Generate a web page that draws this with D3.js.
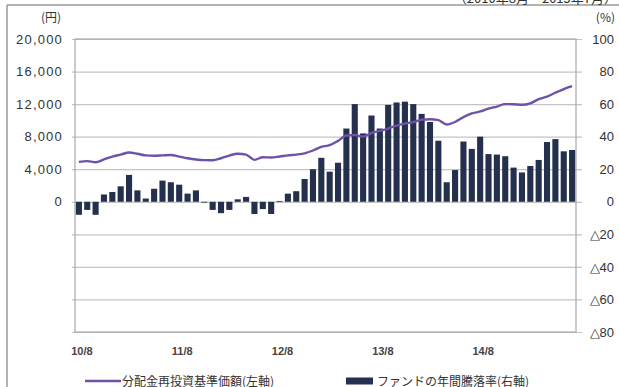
<!DOCTYPE html>
<html>
<head>
<meta charset="utf-8">
<script src="https://cdn.jsdelivr.net/npm/d3@7/dist/d3.min.js"></script>
<style>
  body { margin: 0; background: #fff; }
  svg { display: block; font-family: "Noto Sans CJK JP", "Noto Sans", sans-serif; }
</style>
</head>
<body>
<div id="chart"></div>
<script>
// --- Data ---
const months = d3.utcMonth.range(new Date(Date.UTC(2010, 7, 1)), new Date(Date.UTC(2015, 7, 1)))
    .map(d3.utcFormat("%y/%-m"));
const xTickLabels = ["10/8", "11/8", "12/8", "13/8", "14/8"];
const leftTicks = [0, 4000, 8000, 12000, 16000, 20000];
const rightTicks = [-80, -60, -40, -20, 0, 20, 40, 60, 80, 100];

// fund annual return (%), right axis
const returnPct = [
    -8, -5, -8, 4.5, 6, 9.5, 16.5, 7, 2, 8,
    13, 12, 10.5, 5, 7, -0.5, -5, -7, -5, 1.5,
    3, -7.5, -4.5, -7.5, 0.5, 5, 6.5, 14, 20, 27,
    18.5, 24, 45, 60, 42, 53, 45, 59.5, 61, 61.5,
    60, 54, 49, 37.5, 12, 19.5, 37, 32.5, 40, 29.3,
    29, 28, 21, 18, 22, 25.7, 36.7, 38.5, 31, 31.8
];
// NAV with dividends reinvested (yen), left axis
const navYen = [
    4900, 5000, 4850, 5200, 5550, 5800, 6050, 5900, 5700, 5650,
    5700, 5750, 5550, 5350, 5200, 5120, 5110, 5350, 5680, 5900,
    5800, 5150, 5480, 5440, 5560, 5700, 5800, 5950, 6300, 6750,
    6950, 7480, 8150, 8200, 8010, 8450, 8710, 9000, 9350, 9600,
    9800, 10080, 10140, 10030, 9500, 9800, 10400, 10850, 11100, 11450,
    11700, 12000, 11990, 11920, 12100, 12600, 12920, 13400, 13850, 14200
];

// --- Layout ---
const width = 619, height = 387;
const plot = { left: 75, right: 576, top: 39, bottom: 332 };

const svg = d3.select("#chart").append("svg")
    .attr("width", width)
    .attr("height", height);

// outer frame (top and left edges)
svg.append("line").attr("x1", 7).attr("x2", width).attr("y1", 5).attr("y2", 5)
    .attr("stroke", "#9a9a9a").attr("stroke-width", 1.5);
svg.append("line").attr("x1", 7).attr("x2", 7).attr("y1", 5).attr("y2", height)
    .attr("stroke", "#9a9a9a").attr("stroke-width", 1.5);

// period header, cut by the top edge as in the source
svg.append("text")
    .attr("x", 617).attr("y", 2.5)
    .attr("text-anchor", "end")
    .attr("fill", "#333")
    .style("font-size", "13px")
    .text("（2010年8月～2015年7月）");

const x = d3.scaleBand()
    .domain(months)
    .range([plot.left, plot.right])
    .paddingInner(0.27)
    .paddingOuter(0.1);

const yL = d3.scaleLinear().domain([-16000, 20000]).range([plot.bottom, plot.top]);
const yR = d3.scaleLinear().domain([-80, 100]).range([plot.bottom, plot.top]);

// --- Gridlines + right axis ---
const rightAxis = svg.append("g")
    .attr("transform", `translate(${plot.right + 6},0)`)
    .call(d3.axisRight(yR)
        .tickValues(rightTicks)
        .tickSize(-(plot.right + 6 - plot.left + 3))
        .tickFormat(d => d < 0 ? "△" + Math.abs(d) : d));
rightAxis.select(".domain").remove();
rightAxis.selectAll(".tick line").attr("stroke", "#c4c4c4").attr("stroke-width", 1.2);
rightAxis.selectAll(".tick text")
    .attr("x", 32)
    .attr("text-anchor", "end")
    .attr("fill", "#333")
    .style("font-size", "13px");

// plot frame
svg.append("rect")
    .attr("x", plot.left).attr("y", plot.top)
    .attr("width", plot.right - plot.left).attr("height", plot.bottom - plot.top)
    .attr("fill", "none").attr("stroke", "#a8a8a8").attr("stroke-width", 1.2);

// --- Left axis ---
const leftAxis = svg.append("g")
    .attr("transform", `translate(${plot.left - 3},0)`)
    .call(d3.axisLeft(yL)
        .tickValues(leftTicks)
        .tickSize(0)
        .tickPadding(9)
        .tickFormat(d3.format(",")));
leftAxis.select(".domain").remove();
leftAxis.selectAll(".tick text")
    .attr("fill", "#333")
    .style("font-size", "13px")
    .style("letter-spacing", "1.2px");

svg.append("text").attr("x", 61).attr("y", 22).attr("text-anchor", "end")
    .attr("fill", "#333").style("font-size", "12px").text("(円)");
svg.append("text").attr("x", 615).attr("y", 22).attr("text-anchor", "end")
    .attr("fill", "#333").style("font-size", "12px").text("(%)");

// --- Bars ---
svg.append("g").selectAll("rect")
    .data(returnPct)
    .enter()
    .append("rect")
    .attr("x", (d, i) => x(months[i]))
    .attr("width", x.bandwidth())
    .attr("y", d => yR(Math.max(d, 0)))
    .attr("height", d => Math.max(Math.abs(yR(d) - yR(0)), 0.8))
    .attr("fill", "#24304d");

// --- Line ---
const line = d3.line()
    .x((d, i) => x(months[i]) + x.bandwidth() / 2)
    .y(d => yL(d))
    .curve(d3.curveMonotoneX);

svg.append("path")
    .datum(navYen)
    .attr("d", line)
    .attr("fill", "none")
    .attr("stroke", "#6e52a8")
    .attr("stroke-width", 2.4);

// --- X axis labels ---
const xAxis = svg.append("g")
    .attr("transform", `translate(0,${plot.bottom})`)
    .call(d3.axisBottom(x).tickValues(xTickLabels).tickSize(0).tickPadding(15));
xAxis.select(".domain").remove();
xAxis.selectAll(".tick text")
    .attr("dx", 3)
    .attr("fill", "#444")
    .style("font-size", "11px")
    .style("font-weight", "bold");

// --- Legend ---
const legend = svg.append("g").attr("transform", "translate(0,381)");
legend.append("line")
    .attr("x1", 85).attr("x2", 121).attr("y1", 0).attr("y2", 0)
    .attr("stroke", "#6e52a8").attr("stroke-width", 2.4);
legend.append("text")
    .attr("x", 122).attr("y", 4.5)
    .attr("fill", "#333").style("font-size", "12px")
    .text("分配金再投資基準価額(左軸)");
legend.append("rect")
    .attr("x", 346).attr("y", -3.5).attr("width", 27).attr("height", 7)
    .attr("fill", "#24304d");
legend.append("text")
    .attr("x", 377).attr("y", 4.5)
    .attr("fill", "#333").style("font-size", "12px")
    .text("ファンドの年間騰落率(右軸)");
</script>
</body>
</html>
